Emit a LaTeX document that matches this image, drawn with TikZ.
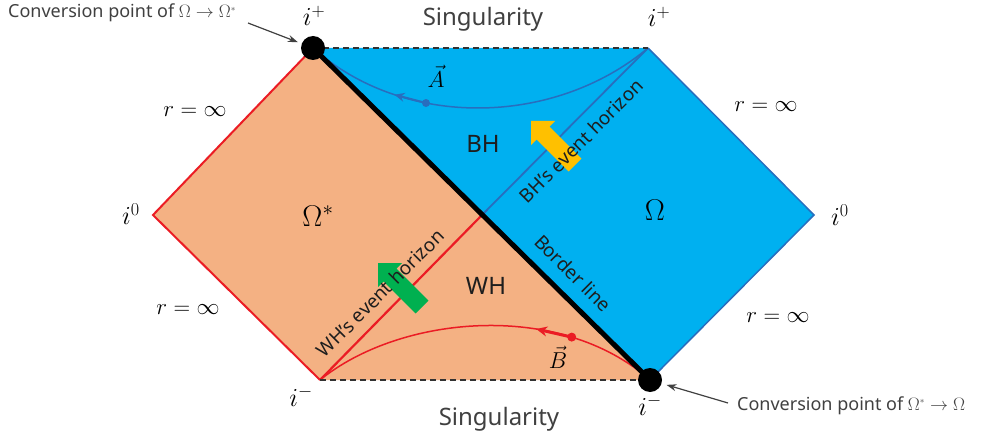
\RequirePackage{fix-cm}
\documentclass[tikz,border=0pt]{standalone}
\usepackage[no-math]{fontspec}
\setmainfont{Noto Sans}
\usetikzlibrary{arrows.meta}
\definecolor{bhfill}{RGB}{0,176,240}
\definecolor{bhline}{RGB}{40,110,190}
\definecolor{whfill}{RGB}{244,177,131}
\definecolor{whline}{RGB}{235,28,36}
\definecolor{ylwarrow}{RGB}{255,192,0}
\definecolor{grnarrow}{RGB}{0,176,80}
\definecolor{txtgray}{RGB}{64,64,64}
\definecolor{darktxt}{RGB}{30,30,30}
\definecolor{dashgray}{RGB}{50,50,50}
\newcommand{\blkarrow}[2]{%
  \fill[#1,shift={#2}] (0,0) -- (24,0) -- (18.4,5.6) -- (50.4,37.6) -- (37.6,50.4) -- (5.6,18.4) -- (0,24) -- cycle;}
\begin{document}
\begin{tikzpicture}[x=1pt,y=-1pt,
  lbl/.style={font=\fontsize{24}{28}\selectfont, text=txtgray, inner sep=0},
  region/.style={font=\fontsize{24}{28}\selectfont, text=darktxt, inner sep=0},
  mlbl/.style={font=\fontsize{23}{27}\selectfont, inner sep=0},
  ilbl/.style={font=\fontsize{26}{30}\selectfont, inner sep=0},
  bigm/.style={font=\fontsize{30}{34}\selectfont, inner sep=0},
  rotlbl/.style={font=\fontsize{19}{22}\selectfont, text=darktxt, inner sep=0},
  conv/.style={font=\fontsize{18}{21}\selectfont, text=txtgray, inner sep=0},
  dotnode/.style={circle, fill=black, minimum size=24pt, inner sep=0},
  singline/.style={draw=dashgray, line width=1.8pt, dash pattern=on 6pt off 4pt},
  convarrow/.style={draw=txtgray, line width=1.2pt, -{Stealth[length=10pt,width=7pt]}},
]
\useasboundingbox (0,0) rectangle (981,438);
\coordinate (TL) at (313,48);
\coordinate (TR) at (648,48);
\coordinate (R) at (814,215);
\coordinate (BR) at (650,380);
\coordinate (BL) at (320,380);
\coordinate (L) at (153,215);
\coordinate (X) at (482,215);

% regions
\fill[whfill] (TL) -- (L) -- (BL) -- (BR) -- cycle;
\fill[bhfill] (TL) -- (TR) -- (R) -- (BR) -- cycle;
\draw[bhline, line width=1.5pt] (TR) -- (R) -- (BR);
\draw[whline, line width=2pt] (TL) -- (L) -- (BL);
\draw[bhline, line width=1.8pt] (TR) -- (X);
\draw[whline, line width=2.2pt] (X) -- (BL);

% world lines
\draw[bhline, line width=1.5pt] (TL) .. controls (405,130) and (555,126) .. (TR)
   coordinate[pos=0.26] (aTip) coordinate[pos=0.35] (aDot);
\draw[bhline, line width=2pt, -{Stealth[length=10pt,width=9pt]}] (aDot) -- (aTip);
\fill[bhline] (aDot) circle (4);

\draw[whline, line width=1.5pt] (BL) .. controls (400,315) and (560,300) .. (BR)
   coordinate[pos=0.65] (bTip) coordinate[pos=0.75] (bDot);
\draw[whline, line width=3pt, -{Stealth[length=11pt,width=10pt]}] (bDot) -- (bTip);
\fill[whline] (bDot) circle (4.5);

% singularities
\draw[singline] (TL) -- (TR);
\draw[singline] (BL) -- (BR);

% border line
\draw[line width=5pt] (TL) -- (BR);

% block arrows
\blkarrow{ylwarrow}{(531,121)}
\blkarrow{grnarrow}{(378,263)}

% conversion points
\node[dotnode] (dTL) at (TL) {};
\node[dotnode] (dBR) at (BR) {};

% labels
\node[lbl, anchor=base] (singTop) at (483,26) {Singularity};
\node[lbl, anchor=base] (singBot) at (499,425) {Singularity};

\node[ilbl] (ipTL) at (314,16) {$i^+$};
\node[ilbl] (ipTR) at (659,17) {$i^+$};
\node[ilbl] (i0L) at (131,214) {$i^0$};
\node[ilbl] (i0R) at (840,215) {$i^0$};
\node[ilbl] (imL) at (301,396) {$i^-$};
\node[ilbl] (imR) at (650,405) {$i^-$};

\node[mlbl] (r1) at (195,112) {$r=\infty$};
\node[mlbl] (r2) at (188,310) {$r=\infty$};
\node[mlbl] (r3) at (766,107) {$r=\infty$};
\node[mlbl] (r4) at (778,318) {$r=\infty$};

\node[bigm] (om) at (655,210) {$\Omega$};
\node[bigm] (oms) at (318,216) {$\Omega^*$};

\node[region] (bh) at (483,144) {BH};
\node[region] (wh) at (486,286) {WH};

\node[mlbl] (va) at (436,76) {$\vec{A}$};
\node[mlbl] (vb) at (558,357) {$\vec{B}$};

\node[rotlbl, rotate=45] (bhh) at (581,141) {BH’s event horizon};
\node[rotlbl, rotate=45] (whh) at (380,293) {WH’s event horizon};
\node[rotlbl, rotate=-45] (bdl) at (573,273) {Border line};

\node[conv, anchor=base west] (conv1) at (8,18) {Conversion point of $\Omega\rightarrow\Omega^{\scriptscriptstyle *}$};
\node[conv, anchor=base west] (conv2) at (737,410) {Conversion point of $\Omega^{\scriptscriptstyle *}\rightarrow\Omega$};
\coordinate (c1s) at (248,23);
\coordinate (c2s) at (728,403);
\draw[convarrow, shorten >=4pt] (c1s) -- (dTL);
\draw[convarrow, shorten >=5pt] (c2s) -- (dBR);
\end{tikzpicture}
\end{document}
